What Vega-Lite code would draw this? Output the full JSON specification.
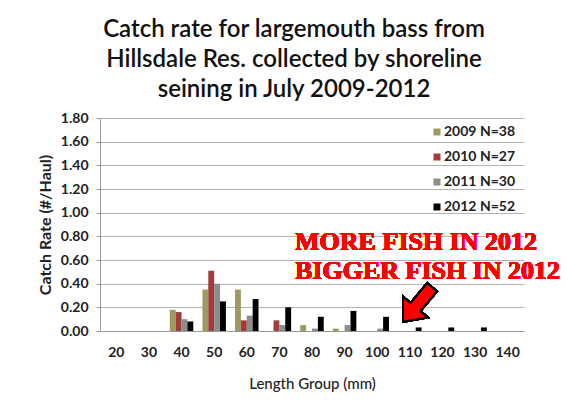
{
  "$schema": "https://vega.github.io/schema/vega-lite/v6.json",
  "width": 424,
  "height": 213,
  "autosize": {"type": "none"},
  "padding": {"left": 100, "top": 118, "right": 44, "bottom": 71},
  "background": "white",
  "title": {
    "text": ["Catch rate for largemouth bass from", "Hillsdale Res. collected by shoreline", "seining in July 2009-2012"],
    "font": "Lato",
    "fontSize": 24,
    "fontWeight": 600,
    "color": "#111111",
    "lineHeight": 30,
    "anchor": "middle",
    "dx": -18,
    "offset": 9
  },
  "config": {
    "view": {"stroke": null},
    "axis": {"labelFont": "Lato", "titleFont": "Lato", "labelColor": "#222222", "titleColor": "#222222"}
  },
  "data": {
    "values": [
      {"length": "40", "series": "2009 N=38", "rate": 0.18},
      {"length": "40", "series": "2010 N=27", "rate": 0.16},
      {"length": "40", "series": "2011 N=30", "rate": 0.10},
      {"length": "40", "series": "2012 N=52", "rate": 0.08},
      {"length": "50", "series": "2009 N=38", "rate": 0.35},
      {"length": "50", "series": "2010 N=27", "rate": 0.51},
      {"length": "50", "series": "2011 N=30", "rate": 0.40},
      {"length": "50", "series": "2012 N=52", "rate": 0.25},
      {"length": "60", "series": "2009 N=38", "rate": 0.35},
      {"length": "60", "series": "2010 N=27", "rate": 0.09},
      {"length": "60", "series": "2011 N=30", "rate": 0.13},
      {"length": "60", "series": "2012 N=52", "rate": 0.27},
      {"length": "70", "series": "2010 N=27", "rate": 0.09},
      {"length": "70", "series": "2011 N=30", "rate": 0.05},
      {"length": "70", "series": "2012 N=52", "rate": 0.20},
      {"length": "80", "series": "2009 N=38", "rate": 0.05},
      {"length": "80", "series": "2011 N=30", "rate": 0.02},
      {"length": "80", "series": "2012 N=52", "rate": 0.12},
      {"length": "90", "series": "2009 N=38", "rate": 0.02},
      {"length": "90", "series": "2011 N=30", "rate": 0.05},
      {"length": "90", "series": "2012 N=52", "rate": 0.17},
      {"length": "100", "series": "2011 N=30", "rate": 0.02},
      {"length": "100", "series": "2012 N=52", "rate": 0.12},
      {"length": "110", "series": "2012 N=52", "rate": 0.03},
      {"length": "120", "series": "2012 N=52", "rate": 0.03},
      {"length": "130", "series": "2012 N=52", "rate": 0.03}
    ]
  },
  "layer": [
    {
      "mark": {"type": "bar"},
      "encoding": {
        "x": {
          "field": "length",
          "type": "ordinal",
          "sort": null,
          "scale": {
            "domain": ["20", "30", "40", "50", "60", "70", "80", "90", "100", "110", "120", "130", "140"],
            "paddingInner": 0.28,
            "paddingOuter": 0.14
          },
          "axis": {
            "title": "Length Group (mm)",
            "labelAngle": 0,
            "ticks": false,
            "domainColor": "#999999",
            "labelFontWeight": "bold",
            "labelFontSize": 14,
            "labelPadding": 14,
            "titleFontWeight": 500,
            "titleFontSize": 15,
            "titlePadding": 17
          }
        },
        "xOffset": {
          "field": "series",
          "type": "nominal",
          "scale": {"domain": ["2009 N=38", "2010 N=27", "2011 N=30", "2012 N=52"], "paddingInner": 0, "paddingOuter": 0}
        },
        "y": {
          "field": "rate",
          "type": "quantitative",
          "stack": null,
          "scale": {"domain": [0, 1.8], "nice": false},
          "axis": {
            "title": "Catch Rate (#/Haul)",
            "values": [0, 0.2, 0.4, 0.6, 0.8, 1.0, 1.2, 1.4, 1.6, 1.8],
            "tickCount": 20,
            "format": ".2f",
            "labelOverlap": false,
            "tickSize": 4,
            "tickColor": "#999999",
            "domainColor": "#999999",
            "gridColor": "#b3b3b3",
            "labelFontWeight": "bold",
            "labelFontSize": 14,
            "labelPadding": 8,
            "titleFontWeight": "bold",
            "titleFontSize": 16,
            "titlePadding": 7
          }
        },
        "color": {
          "field": "series",
          "type": "nominal",
          "scale": {
            "domain": ["2009 N=38", "2010 N=27", "2011 N=30", "2012 N=52"],
            "range": ["#A09862", "#A33B3B", "#8C8C8C", "#000000"]
          },
          "legend": {
            "orient": "none",
            "legendX": 330,
            "legendY": 7,
            "title": null,
            "symbolType": "square",
            "symbolSize": 49,
            "symbolStrokeWidth": 0,
            "labelFont": "Lato",
            "labelFontWeight": "bold",
            "labelFontSize": 14,
            "labelColor": "#222222",
            "labelOffset": 0,
            "rowPadding": 11,
            "padding": 0
          }
        }
      }
    },
    {
      "mark": {
        "type": "text",
        "text": ["MORE FISH IN 2012", "BIGGER FISH IN 2012"],
        "align": "left",
        "baseline": "alphabetic",
        "dx": -17,
        "font": "Liberation Serif",
        "fontWeight": "bold",
        "fontSize": 26,
        "fill": "#FF0000",
        "strokeWidth": 0,
        "lineHeight": 29
      },
      "encoding": {
        "x": {"datum": "80", "type": "ordinal"},
        "y": {"datum": 0.685, "type": "quantitative"}
      }
    },
    {
      "mark": {
        "type": "point",
        "shape": "M-0.28,-1L0.28,-1L0.28,0.15L0.72,0.15L0,1L-0.72,0.15L-0.28,0.15Z",
        "size": 2025,
        "angle": 40,
        "filled": true,
        "fill": "#FF0000",
        "stroke": "#000000",
        "strokeWidth": 2,
        "opacity": 1
      },
      "encoding": {
        "x": {"datum": "110", "type": "ordinal", "bandPosition": 0.83},
        "y": {"datum": 0.224, "type": "quantitative"}
      }
    }
  ]
}
